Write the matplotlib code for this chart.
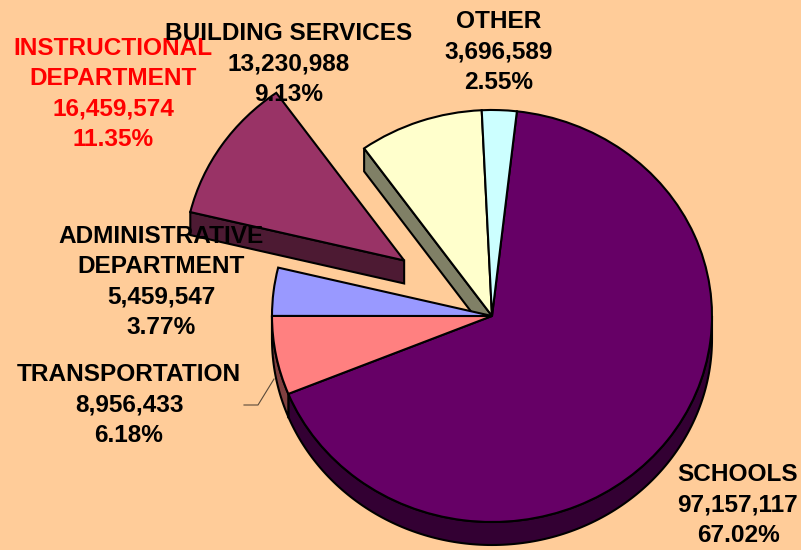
import numpy as np
import matplotlib
matplotlib.use("Agg")
import matplotlib.pyplot as plt
from matplotlib.patches import Polygon

categories = ["SCHOOLS", "TRANSPORTATION", "ADMINISTRATIVE\nDEPARTMENT",
              "INSTRUCTIONAL\nDEPARTMENT", "BUILDING SERVICES", "OTHER"]
values = [97157117, 8956433, 5459547, 16459574, 13230988, 3696589]
percents = ["67.02%", "6.18%", "3.77%", "11.35%", "9.13%", "2.55%"]
top_colors = ["#660066", "#FF8080", "#9999FF", "#993366", "#FFFFCC", "#CCFFFF"]
side_colors = ["#330033", "#804040", "#4D4D80", "#4D1A33", "#808066", "#668080"]
text_colors = ["black", "black", "black", "#FF0000", "black", "black"]
label_xy = [(738, 505), (129, 405), (161, 282), (113, 94), (289, 64), (499, 52)]
explode = [0, 0, 0, 106, 0, 0]

W, H = 801, 550
CX, CY, RX, RY, DEPTH = 492, 316, 220, 206, 23
K = RX / RY  # y stretch: data is a true circle, the axes squash it

def Y(py):
    return (H - py) * K

plt.rcParams["font.family"] = ["Liberation Sans", "DejaVu Sans"]
fig = plt.figure(figsize=(W / 100, H / 100), dpi=100, facecolor="#FFCC99")
ax = fig.add_axes([0, 0, 1, 1])

wedges, _ = ax.pie(values, colors=top_colors, startangle=83.5, counterclock=False,
                   radius=RX, center=(CX, Y(CY)), explode=explode,
                   wedgeprops=dict(edgecolor="black", linewidth=1.5, zorder=3))
ax.set_aspect("auto")
ax.set_xlim(0, W)
ax.set_ylim(0, H * K)
ax.set_axis_off()

d = DEPTH * K
for w, sc in zip(wedges, side_colors):
    cx, cy = w.center
    r = w.r
    t1, t2 = w.theta1, w.theta2
    # straight cut faces that look towards the viewer
    for t, normal in ((t1, t1 - 90), (t2, t2 + 90)):
        if np.sin(np.radians(normal)) < 0:
            ex = cx + r * np.cos(np.radians(t))
            ey = cy + r * np.sin(np.radians(t))
            ax.add_patch(Polygon([(cx, cy), (ex, ey), (ex, ey - d), (cx, cy - d)],
                                 closed=True, facecolor=sc, edgecolor="black",
                                 linewidth=1.5, zorder=2))
    # outer rim, lower half only
    a = np.arange(np.ceil(t1), np.floor(t2) + 1, 1.0)
    a = np.concatenate(([t1], a, [t2]))
    a = a[np.sin(np.radians(a)) <= 0]
    if a.size > 1:
        xs = cx + r * np.cos(np.radians(a))
        ys = cy + r * np.sin(np.radians(a))
        pts = np.r_[np.c_[xs, ys], np.c_[xs[::-1], ys[::-1] - d]]
        ax.add_patch(Polygon(pts, closed=True, facecolor=sc, edgecolor="black",
                             linewidth=1.5, zorder=2.5))

# leader line of the TRANSPORTATION label
ax.plot([274, 258, 244], [Y(379), Y(405), Y(405)], color="#5A4A3A", lw=0.8, zorder=4)

for name, val, pct, col, (x, y) in zip(categories, values, percents, text_colors, label_xy):
    ax.text(x, Y(y), f"{name}\n{val:,}\n{pct}", ha="center", va="center",
            color=col, fontsize=17.6, fontweight="bold", linespacing=1.42, zorder=5)

fig.savefig("out.png", dpi=100, facecolor=fig.get_facecolor())
